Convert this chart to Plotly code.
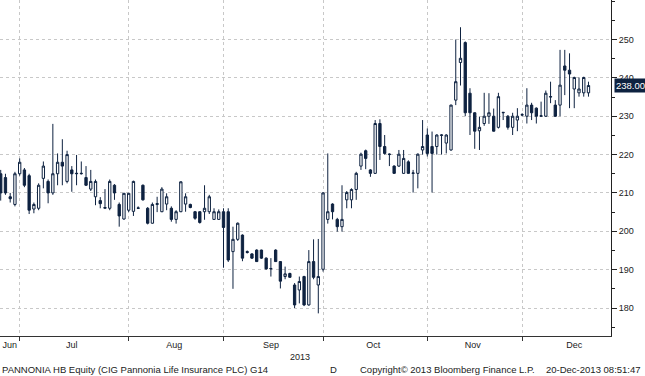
import plotly.graph_objects as go

# ---- data ----
open_ = [215, 214, 209, 207, 215, 216, 214.5, 205.8, 206, 213.8, 213, 210, 215, 218, 213, 216, 215, 215, 214, 211,
         209, 208, 206, 206, 212, 207, 203.2, 205.5, 205.2, 206.1, 212, 206, 202.1, 207, 205.1, 207.1, 206, 203.1, 205.1, 207.1,
         207, 205.1, 205.1, 205.1, 205.1, 203.1, 203.1, 205.1, 205.1, 194.7, 197.9, 199, 194.7, 194.1, 195.1, 195.1, 193, 190.2, 195.1, 192.1,
         188.2, 189, 186, 184.7, 188.2, 180.8, 192.1, 186, 190.1, 203.1, 207.1, 203.1, 201.2, 208.2, 208.2, 210.9, 217, 221, 216, 215.1,
         228.1, 222.1, 220, 217, 217, 215.1, 218.1, 215.1, 215.1, 221.2, 225.1, 222.1, 222.1, 225, 223, 221.2, 234.2, 244, 249.2, 236,
         230.9, 226.2, 228.1, 230, 230, 227.1, 230.9, 230, 227.1, 229, 230.3, 230, 232.9, 232.1, 230, 230, 235, 232.9, 232.9, 243.1,
         242, 237.1, 236.1, 236.1, 236.1]
high = [216, 215, 210, 215.5, 219, 216.5, 215, 207.5, 212.5, 218.2, 213.5, 228, 220.3, 224, 221, 217, 219.9, 218.2, 217, 216,
        213.5, 208.9, 211, 213.5, 212.3, 207.5, 210, 210, 213.2, 206.5, 212.2, 206.3, 207.5, 209, 211.5, 209.9, 206.5, 205.5, 213, 209.9,
        207.2, 205.3, 205.2, 212, 209.5, 206, 205.7, 206, 206, 201.2, 202.3, 199.2, 195, 194.3, 195.3, 195.2, 193.2, 193, 195.3, 192.2,
        190.8, 189.2, 186.5, 188.2, 188.4, 195.1, 197.9, 198, 210.2, 220.3, 207.3, 203.5, 212, 210.5, 211.2, 215.5, 220.5, 221.3, 216.2, 229,
        229.2, 225.1, 220.3, 217.2, 221.2, 221.2, 218.5, 216, 220.3, 229, 226.8, 226, 225.3, 225.3, 225.3, 233, 250, 253.2, 249.5, 237.3,
        231, 229.9, 236.1, 236, 232, 236.1, 231, 230.3, 230.9, 232.1, 230.8, 237.3, 233.5, 232.3, 233.8, 236.7, 239, 234.2, 247.3, 247.3,
        246.4, 240.3, 240.1, 240.3, 239]
low = [208, 209.5, 207.5, 206.5, 214.5, 211.5, 204.5, 204.7, 205.5, 211.2, 207.3, 209.5, 212, 212, 212.5, 210.3, 212, 214.8, 211.8, 210.5,
       206.8, 206, 205.8, 205.5, 208.2, 201.2, 203, 205, 204, 205.8, 208, 201.8, 202, 205, 205, 205.5, 202.5, 202, 205, 205.1,
       206, 203, 202, 203, 204.5, 203, 203, 190.5, 192, 185, 197.5, 192.2, 194.2, 192.8, 192, 192.8, 190, 188.2, 192, 185.1,
       187.5, 187.9, 180, 181.2, 180.5, 180.6, 187.5, 178.6, 189.5, 202, 203.1, 199.9, 199.9, 206, 206, 208.2, 216, 216.2, 214.2, 215,
       218.6, 220, 217, 215, 216.8, 215, 215, 210.1, 211.2, 220, 219.5, 210.1, 220, 220, 220.3, 221, 232.9, 238, 230, 225.1,
       221.5, 221.2, 227.5, 228, 226, 226.8, 229, 226.5, 225.1, 226.1, 230, 228.1, 229, 228.1, 229.8, 229.8, 233.4, 229.8, 230, 235.5,
       232.1, 232.1, 235.1, 235.1, 235.1]
close = [210, 210, 208.5, 215, 218, 212, 205.5, 207, 212, 217, 210, 215, 218, 217, 220, 215, 215.1, 215.1, 212, 213,
         213, 207.2, 206.2, 213, 210, 204, 209.9, 209.9, 213, 206, 208.2, 202.1, 207, 207.2, 211, 209, 203.1, 205.1, 212.9, 209,
         206.2, 203.4, 202.3, 206, 209, 205.1, 205.1, 201, 192.5, 197.9, 202.1, 193, 194.5, 193, 192.1, 193, 190.2, 190.3, 192.1, 187,
         188.9, 188, 180.8, 186.9, 180.8, 192.1, 188, 188.2, 210, 205.1, 205.1, 201.2, 203.1, 210.1, 210.9, 215.1, 220.1, 219, 215.1, 228.1,
         222.1, 220.3, 220.1, 215.1, 220.1, 219, 215.1, 215.2, 220.1, 222.1, 220.3, 220.3, 225.1, 225.1, 225.1, 232.9, 239, 245.1, 230.9, 230.9,
         226.1, 227.1, 230, 230.9, 226.1, 235.1, 231, 227.1, 230, 230, 230.4, 232.9, 230.9, 230, 230.1, 236, 235.1, 230, 238.1, 242,
         241, 240.1, 237.1, 240.1, 238]

# month layout: first trading day index of each month (gridlines) and label positions
month_start_idx = [4, 27, 47, 68, 90, 110]
month_labels = ["Jun", "Jul", "Aug", "Sep", "Oct", "Nov", "Dec"]
month_label_pos = [1.9, 15, 36.6, 57, 78.6, 99.6, 121]
y_ticks = [180, 190, 200, 210, 220, 230, 240, 250]
last_price = 238.00

x = list(range(len(close)))
NAVY = "#0e2240"
FONT = "Liberation Sans, Arial, sans-serif"

fig = go.Figure(go.Candlestick(
    x=x, open=open_, high=high, low=low, close=close,
    increasing=dict(line=dict(color=NAVY, width=1), fillcolor="white"),
    decreasing=dict(line=dict(color=NAVY, width=1), fillcolor=NAVY),
    whiskerwidth=0, showlegend=False,
))

fig.update_layout(
    width=645, height=376,
    margin=dict(l=0, r=34, t=0, b=40),
    paper_bgcolor="white", plot_bgcolor="white",
    font=dict(family=FONT, size=9, color="#222"),
    xaxis=dict(
        range=[-0.15, 128.75], rangeslider=dict(visible=False),
        tickmode="array", tickvals=month_label_pos, ticktext=month_labels,
        ticks="", showgrid=False, zeroline=False,
        showline=True, linecolor="#333", linewidth=1,
        tickfont=dict(size=9, color="#222"),
        minor=dict(tickmode="array", tickvals=month_start_idx, ticks="outside", ticklen=4,
                   tickcolor="#333", showgrid=True, gridcolor="#c8c8c8", griddash="dot", gridwidth=1),
    ),
    yaxis=dict(
        side="right", range=[172.7, 260.3],
        tickmode="array", tickvals=y_ticks,
        ticks="outside", ticklen=5, tickcolor="#222",
        showline=True, linecolor="#222", linewidth=1,
        showgrid=True, gridcolor="#c8c8c8", griddash="dot", gridwidth=1,
        zeroline=False, tickfont=dict(size=9, color="#222"),
        minor=dict(dtick=5, tick0=0, ticks="outside", ticklen=3, tickcolor="#222", showgrid=False),
    ),
)

annotations = [
    dict(text="2013", x=300 / 611, y=-0.0625, xref="paper", yref="paper",
         showarrow=False, xanchor="center", yanchor="middle", font=dict(size=9, color="#222")),
    dict(text="PANNONIA HB Equity (CIG Pannonia Life Insurance PLC) G14", x=0.0, y=-0.101,
         xref="paper", yref="paper", showarrow=False, xanchor="left", yanchor="middle",
         font=dict(size=9.5, color="#222")),
    dict(text="D", x=333 / 611, y=-0.101, xref="paper", yref="paper", showarrow=False,
         xanchor="center", yanchor="middle", font=dict(size=9.5, color="#222")),
    dict(text="Copyright\u00a9 2013 Bloomberg Finance L.P.", x=358 / 611, y=-0.101, xref="paper",
         yref="paper", showarrow=False, xanchor="left", yanchor="middle", font=dict(size=9.5, color="#222")),
    dict(text="20-Dec-2013 08:51:47", x=643 / 611, y=-0.101, xref="paper", yref="paper",
         showarrow=False, xanchor="right", yanchor="middle", font=dict(size=9.5, color="#222")),
    dict(text="%.2f" % last_price, x=1, y=last_price, xref="paper", yref="y", showarrow=False,
         xanchor="left", yanchor="middle", xshift=3, bgcolor=NAVY, borderpad=1,
         font=dict(size=9.5, color="white")),
]
fig.update_layout(annotations=annotations)

fig.write_html("out.html", config={"displayModeBar": False},
               post_script="document.body.style.margin='0';document.body.style.padding='0';")
